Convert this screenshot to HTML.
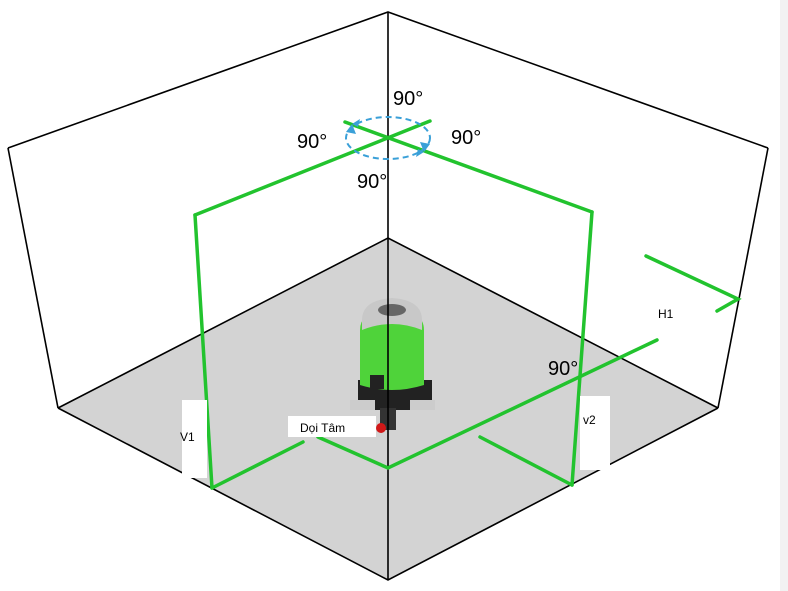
<!DOCTYPE html>
<html><head><meta charset="utf-8"><style>
html,body{margin:0;padding:0;background:#fff;width:788px;height:591px;overflow:hidden}
svg{display:block}
text{font-family:"Liberation Sans","DejaVu Sans",sans-serif}
</style></head><body>
<svg width="788" height="591" viewBox="0 0 788 591" xmlns="http://www.w3.org/2000/svg">
<rect x="780" y="0" width="8" height="591" fill="#f2f2f2"/>
<polygon points="388,238 718,408 388,580 58,408" fill="#d3d3d3"/>
<g stroke="#000" stroke-width="1.6" fill="none">
<polyline points="8,148 388,12 768,148"/>
<line x1="8" y1="148" x2="58" y2="408"/>
<line x1="768" y1="148" x2="718" y2="408"/>
<polyline points="58,408 388,238 718,408"/>
<polyline points="58,408 388,580 718,408"/>
</g>
<!-- device -->
<g>
<rect x="358" y="380" width="74" height="30" fill="#222"/>
<rect x="350" y="400" width="25" height="10" fill="#ccc"/>
<rect x="410" y="400" width="25" height="10" fill="#ccc"/>
<path d="M360,330 Q360,310 392,308 Q424,310 424,330 L424,385 Q392,395 360,385 Z" fill="#4fd33a"/>
<path d="M362,320 Q362,300 392,298 Q422,300 422,320 L422,330 Q392,318 362,330 Z" fill="#c8c8c8"/>
<ellipse cx="392" cy="310" rx="14" ry="6" fill="#666"/>
<rect x="370" y="375" width="14" height="14" fill="#222"/>
<rect x="380" y="408" width="16" height="22" fill="#333"/>
<circle cx="381" cy="428" r="5" fill="#d01818"/>
</g>
<line x1="388" y1="12" x2="388" y2="580" stroke="#000" stroke-width="1.6"/>
<g stroke="#22c32e" stroke-width="3.5" fill="none" stroke-linecap="round">
<line x1="195" y1="215" x2="430" y2="121"/>
<line x1="345" y1="122" x2="592" y2="212"/>
<line x1="195" y1="215" x2="212" y2="488"/>
<line x1="592" y1="212" x2="572" y2="485"/>
<line x1="212" y1="488" x2="303" y2="442"/>
<polyline points="318,437 388,468 657,340"/>
<line x1="480" y1="437" x2="572" y2="485"/>
<polyline points="646,256 738,299 717,311"/>
</g>
<g stroke="#3aa0d8" stroke-width="2" fill="none" stroke-dasharray="6,4">
<ellipse cx="388" cy="138" rx="42" ry="21"/>
</g>
<g fill="#3aa0d8">
<polygon points="346,132 352,124 356,134"/>
<polygon points="430,144 424,152 420,142"/>
<polygon points="352,124 360,119 358,127"/>
<polygon points="424,152 416,157 418,149"/>
</g>
<rect x="182" y="400" width="25" height="78" fill="#fff"/>
<rect x="288" y="416" width="88" height="21" fill="#fff"/>
<rect x="580" y="396" width="30" height="74" fill="#fff"/>
<g fill="#000" font-size="12">
<text x="180" y="441">V1</text>
<text x="300" y="432">Dọi Tâm</text>
<text x="583" y="424">v2</text>
<text x="658" y="318">H1</text>
</g>
<g fill="#000" font-size="20">
<text x="393" y="105">90°</text>
<text x="297" y="148">90°</text>
<text x="451" y="144">90°</text>
<text x="357" y="188">90°</text>
<text x="548" y="375">90°</text>
</g>
</svg>
</body></html>
